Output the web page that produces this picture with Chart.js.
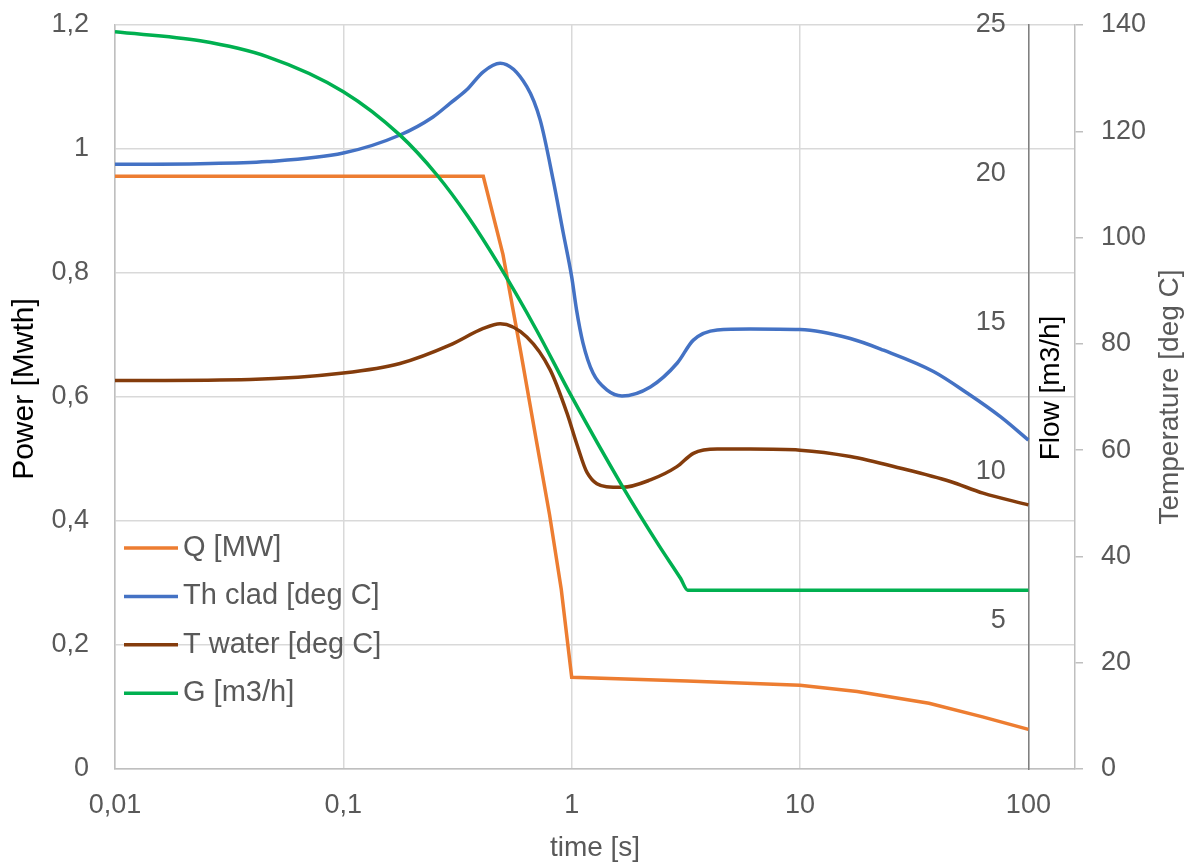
<!DOCTYPE html>
<html>
<head>
<meta charset="utf-8">
<script src="https://cdn.jsdelivr.net/npm/chart.js@4.4.0/dist/chart.umd.min.js"></script>
<style>
  body { margin: 0; background: #fff; }
  #wrap { width: 1193px; height: 862px; }
</style>
</head>
<body>
<div id="wrap"><canvas id="chart" width="1193" height="862"></canvas></div>
<script>
// time axis (log) - labelled decades
const xTicks = [0.01, 0.1, 1, 10, 100];

// Q [MW] -> Power axis
const qTime   = [0.01, 0.41, 0.5, 0.6, 0.7, 0.8, 0.9, 1.0, 3.2, 10, 17.8, 36.7, 63, 100];
const qValues = [0.956, 0.956, 0.83, 0.67, 0.53, 0.41, 0.29, 0.148, 0.142, 0.135, 0.125, 0.106, 0.084, 0.064];

// Th clad [deg C] -> Temperature axis
const cladTime   = [0.01, 0.0236, 0.0463, 0.1, 0.177, 0.247, 0.294, 0.347, 0.41, 0.486, 0.636, 0.728, 0.83, 0.918,
                    1.0, 1.05, 1.12, 1.24, 1.43, 1.66, 2.21, 2.9, 3.41, 4.34, 6.05, 10, 16.6, 23.2, 38.4, 54.1, 75.4, 100];
const cladValues = [113.8, 113.9, 114.3, 115.9, 119.3, 122.7, 125.3, 127.8, 131.2, 132.8, 128.4, 122.1, 110.8, 100.9,
                    92.6, 86.4, 80.2, 74.5, 71.3, 70.2, 71.9, 76.4, 80.7, 82.6, 82.8, 82.7, 81.0, 78.8, 74.8, 70.7, 66.3, 61.9];

// T water [deg C] -> Temperature axis
const waterTime   = [0.01, 0.039, 0.1, 0.177, 0.294, 0.41, 0.486, 0.636, 0.805, 0.953, 1.05, 1.17, 1.42, 1.67,
                     2.21, 2.89, 3.41, 4.34, 6.05, 10, 16.6, 27.6, 45.5, 63.3, 100];
const waterValues = [73.1, 73.3, 74.5, 76.3, 79.8, 82.9, 83.8, 81.3, 75.1, 67.0, 61.3, 55.7, 53.1, 53.0,
                     54.4, 56.9, 59.4, 60.2, 60.2, 60.0, 58.8, 56.6, 54.1, 51.9, 49.7];

// G [m3/h] -> Flow axis
const flowTime   = [0.01, 0.0236, 0.0463, 0.1, 0.177, 0.257, 0.35, 0.486, 0.7, 1.0, 1.67, 2.42, 3.0, 3.22, 100];
const flowValues = [24.77, 24.47, 23.94, 22.76, 21.30, 19.96, 18.58, 16.87, 14.76, 12.51, 9.49, 7.49, 6.40, 6.01, 6.01];

const seriesNames  = ['Q [MW]', 'Th clad [deg C]', 'T water [deg C]', 'G [m3/h]'];
const seriesColors = ['#ED7D31', '#4472C4', '#843C0C', '#00B050'];

const FONT = '"Liberation Sans", Arial, sans-serif';
Chart.defaults.font.family = FONT;

function pts(ts, vs) {
  return ts.map((t, i) => ({ x: t, y: vs[i] }));
}

// decimal comma like the original
function fmt(v) {
  return String(Math.round(v * 1000) / 1000).replace('.', ',');
}

// fixed axis sizes so the plot area sits where the original one does
function fixWidth(w) {
  return s => {
    s.width = w;
    s.paddingTop = 0;
    s.paddingBottom = 0;
  };
}

function vText(ctx, text, x, y, color, size) {
  ctx.save();
  ctx.translate(x, y);
  ctx.rotate(-Math.PI / 2);
  ctx.font = size + 'px ' + FONT;
  ctx.textAlign = 'center';
  ctx.textBaseline = 'middle';
  ctx.fillStyle = color;
  ctx.fillText(text, 0, 0);
  ctx.restore();
}

// legend inside plot + the vertical titles (read bottom to top)
const extraText = {
  id: 'extraText',
  afterDraw(chart) {
    const ctx = chart.ctx;
    const area = chart.chartArea;
    ctx.save();
    ctx.font = '29px ' + FONT;
    ctx.textBaseline = 'middle';
    ctx.textAlign = 'left';
    seriesNames.forEach((name, i) => {
      const y = 548 + i * 48.4;
      ctx.strokeStyle = seriesColors[i];
      ctx.lineWidth = 3.5;
      ctx.beginPath();
      ctx.moveTo(area.left + 9, y);
      ctx.lineTo(area.left + 63, y);
      ctx.stroke();
      ctx.fillStyle = '#595959';
      ctx.fillText(name, area.left + 68, y);
    });
    ctx.restore();

    vText(ctx, 'Power [Mwth]', 25, 389, '#000', 30);
    vText(ctx, 'Flow [m3/h]', 1051, 388, '#000', 28);
    vText(ctx, 'Temperature [deg C]', 1170, 397, '#595959', 28);
  }
};

const tickFont = { size: 27, family: FONT };
const titleFont = { size: 28, family: FONT, lineHeight: 1 };

new Chart(document.getElementById('chart'), {
  type: 'line',
  data: {
    datasets: [
      { label: seriesNames[0], data: pts(qTime, qValues), yAxisID: 'y', borderColor: seriesColors[0],
        tension: 0, order: 4 },
      { label: seriesNames[1], data: pts(cladTime, cladValues), yAxisID: 'yT', borderColor: seriesColors[1],
        cubicInterpolationMode: 'monotone', order: 3 },
      { label: seriesNames[2], data: pts(waterTime, waterValues), yAxisID: 'yT', borderColor: seriesColors[2],
        cubicInterpolationMode: 'monotone', order: 2 },
      { label: seriesNames[3], data: pts(flowTime, flowValues), yAxisID: 'yF', borderColor: seriesColors[3],
        cubicInterpolationMode: 'monotone', order: 1 }
    ]
  },
  options: {
    responsive: false,
    animation: false,
    layout: { padding: { top: 25, left: 0, right: 0, bottom: 0 } },
    elements: {
      line: { borderWidth: 3.5, fill: false },
      point: { radius: 0 }
    },
    plugins: {
      legend: { display: false },
      tooltip: { enabled: false }
    },
    scales: {
      x: {
        type: 'logarithmic',
        min: 0.01,
        max: 160,
        afterBuildTicks: s => { s.ticks = xTicks.map(v => ({ value: v })); },
        afterFit: s => { s.height = 93; },
        grid: { color: '#d9d9d9', lineWidth: 1.5, drawTicks: false },
        border: { color: '#bfbfbf', width: 1.5 },
        ticks: { color: '#595959', font: tickFont, padding: 20, maxRotation: 0, autoSkip: false,
                 callback: v => fmt(v) },
        title: { display: true, text: 'time [s]', color: '#595959', font: titleFont, padding: 0 }
      },
      y: {
        position: 'left',
        min: 0,
        max: 1.2,
        afterFit: fixWidth(115),
        grid: { color: '#d9d9d9', lineWidth: 1.5, drawTicks: false },
        border: { color: '#bfbfbf', width: 1.5 },
        ticks: { stepSize: 0.2, color: '#595959', font: tickFont, padding: 26, callback: v => fmt(v) }
      },
      yT: {
        position: 'right',
        min: 0,
        max: 140,
        afterFit: fixWidth(118),
        grid: { drawOnChartArea: false, drawTicks: true, tickLength: 8, color: '#bfbfbf', lineWidth: 1.5 },
        border: { color: '#bfbfbf', width: 1.5 },
        ticks: { stepSize: 20, color: '#595959', font: tickFont, padding: 18 }
      },
      yF: {
        position: { x: 100 },
        min: 0,
        max: 25,
        afterFit: s => { s.paddingTop = 0; s.paddingBottom = 0; },
        grid: { display: false },
        border: { display: true, color: '#808080', width: 1.5 },
        ticks: { stepSize: 5, color: '#595959', font: tickFont,
                 callback: v => (v === 0 ? '' : v + '   ') }
      }
    }
  },
  plugins: [extraText]
});
</script>
</body>
</html>
